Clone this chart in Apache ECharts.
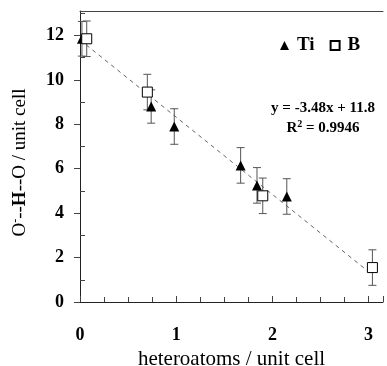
<!DOCTYPE html>
<html>
<head>
<meta charset="utf-8">
<script src="https://cdn.jsdelivr.net/npm/echarts@6/dist/echarts.min.js"></script>
<style>
  html, body { margin: 0; padding: 0; background: #fff; }
  #chart { width: 387px; height: 366px; }
</style>
</head>
<body>
<div id="chart"></div>
<script>
// values
const tiX = [0.02, 0.74, 0.98, 1.67, 1.84, 2.15];
const tiY = [11.85, 8.8, 7.9, 6.15, 5.25, 4.75];
const tiErr = [0.78, 0.75, 0.8, 0.8, 0.8, 0.8];
const bX = [0.07, 0.70, 1.90, 3.04];
const bY = [11.85, 9.45, 4.78, 1.55];
const bErr = [0.8, 0.8, 0.8, 0.8];
const fitLine = [[0, 11.8], [3.03, 1.26]];
const yMinorTicks = [1, 3, 5, 7, 9, 11, 13];
const eqLines = ['y = -3.48x + 11.8', 'R{sup|2} = 0.9946'];

const font = 'Liberation Serif';
const chart = echarts.init(document.getElementById('chart'));

const toPts = (xs, ys, es) => xs.map((x, i) => [x, ys[i], es[i]]);

const errRender = (params, api) => {
  const x = api.value(0), y = api.value(1), e = api.value(2);
  const top = api.coord([x, y + e]);
  const bot = api.coord([x, y - e]);
  const style = { stroke: '#555', lineWidth: 1 };
  return {
    type: 'group',
    children: [
      { type: 'line', shape: { x1: top[0], y1: top[1], x2: bot[0], y2: bot[1] }, style },
      { type: 'line', shape: { x1: top[0] - 4, y1: top[1], x2: top[0] + 4, y2: top[1] }, style },
      { type: 'line', shape: { x1: bot[0] - 4, y1: bot[1], x2: bot[0] + 4, y2: bot[1] }, style }
    ]
  };
};

chart.setOption({
  animation: false,
  backgroundColor: '#fff',
  grid: { left: 80, top: 11, right: 4, bottom: 64, outerBoundsMode: 'none', containLabel: false },
  legend: {
    data: [{ name: 'Ti', icon: 'triangle' }, { name: 'B', icon: 'rect' }],
    left: 280, top: 36, padding: 0,
    itemWidth: 9, itemHeight: 9, itemGap: 15,
    textStyle: { fontFamily: font, fontWeight: 'bold', fontSize: 19, color: '#000', padding: [0, 0, 0, 3] }
  },
  graphic: eqLines.map((t, i) => ({
    type: 'text',
    style: {
      text: t, x: 323, y: 108 + i * 20, align: 'center', verticalAlign: 'middle',
      font: 'bold 15px ' + font, fill: '#000',
      rich: { sup: { fontSize: 10, fontWeight: 'bold', fontFamily: font, padding: [0, 0, 8, 0] } }
    }
  })),
  xAxis: [{
    type: 'value', min: 0, max: 3.15, interval: 1,
    name: 'heteroatoms / unit cell', nameLocation: 'middle', nameGap: 36,
    nameTextStyle: { fontFamily: font, fontSize: 21, color: '#000' },
    axisLine: { lineStyle: { color: '#222' } },
    axisTick: { inside: true, length: 6, lineStyle: { color: '#444' } },
    minorTick: { show: true, splitNumber: 4, length: 5, lineStyle: { color: '#444' } },
    axisLabel: { fontFamily: font, fontWeight: 'bold', fontSize: 18, color: '#000', margin: 24,
      showMaxLabel: false },
    splitLine: { show: false }
  }, {
    type: 'value', position: 'top', min: 0, max: 3.15,
    axisLine: { show: true, onZero: false, lineStyle: { color: '#444' } },
    axisTick: { show: false }, axisLabel: { show: false }, splitLine: { show: false }
  }],
  yAxis: [{
    type: 'value', min: 0, max: 13.1, interval: 2,
    name: 'O{sup|-}--{b|H}--O / unit cell', nameLocation: 'middle', nameGap: 49,
    nameTextStyle: {
      fontFamily: font, fontSize: 19, color: '#000', padding: [0, 12, 0, 0],
      rich: {
        sup: { fontFamily: font, fontSize: 12, color: '#000', padding: [0, 0, 9, 0] },
        b: { fontFamily: font, fontSize: 19, fontWeight: 'bold', color: '#000' }
      }
    },
    axisLine: { show: true, lineStyle: { color: '#222' } },
    axisTick: { show: true, length: 6, lineStyle: { color: '#444' } },
    axisLabel: { fontFamily: font, fontWeight: 'bold', fontSize: 18, color: '#000', margin: 16,
      showMaxLabel: false },
    splitLine: { show: false }
  }, {
    type: 'value', min: 0, max: 13.1, position: 'left',
    axisLine: { show: false },
    axisTick: { show: true, inside: true, length: 5, customValues: yMinorTicks, lineStyle: { color: '#444' } },
    axisLabel: { show: false }, splitLine: { show: false }
  }],
  series: [
    {
      type: 'line', data: fitLine, symbol: 'none', z: 1,
      lineStyle: { type: [4, 4], width: 1, color: '#666' }, silent: true
    },
    { type: 'custom', data: toPts(tiX, tiY, tiErr), renderItem: errRender, z: 2 },
    { type: 'custom', data: toPts(bX, bY, bErr), renderItem: errRender, z: 2 },
    {
      name: 'Ti', type: 'scatter', symbol: 'triangle', symbolSize: 10, z: 3,
      data: tiX.map((x, i) => [x, tiY[i]]),
      itemStyle: { color: '#000', opacity: 1 }
    },
    {
      name: 'B', type: 'scatter', symbol: 'rect', symbolSize: 10, z: 4,
      data: bX.map((x, i) => [x, bY[i]]),
      itemStyle: { color: '#fff', borderColor: '#000', borderWidth: 1, opacity: 1 }
    }
  ]
});
</script>
</body>
</html>
